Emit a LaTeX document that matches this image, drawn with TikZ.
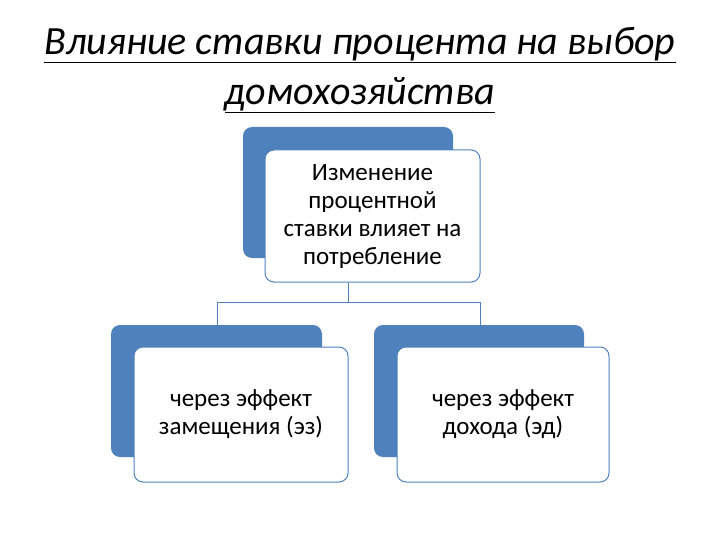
\documentclass[tikz,border=0pt]{standalone}
\usepackage{fontspec}
\setmainfont{Carlito}
\begin{document}
\begin{tikzpicture}[x=1pt,y=-1pt,
  back/.style={fill=blue1,draw=none,rounded corners=9pt},
  front/.style={fill=white,draw=blue1,line width=1pt,rounded corners=9pt,align=center,font=\fontsize{25}{28}\selectfont,inner sep=0pt},
  conn/.style={draw=blue1,line width=1pt}]
\definecolor{blue1}{HTML}{4F81BD}
\useasboundingbox (0,0) rectangle (720,540);
\node[font=\fontsize{40}{50}\selectfont\itshape,align=center] (title) at (360,70)
  {\underline{Влияние ставки процента на выбор}\\\underline{домохозяйства}};
\fill[back] (243,127) rectangle (453,258);
\node[front,minimum width=215pt,minimum height=132pt] (top) at (372.5,216) {Изменение\\процентной\\ставки влияет на\\потребление};
\fill[back] (111,325) rectangle (322,457);
\node[front,minimum width=214pt,minimum height=135pt] (left) at (241,414.5) {через эффект\\замещения (эз)};
\fill[back] (374,325) rectangle (584,457);
\node[front,minimum width=212pt,minimum height=135pt] (right) at (503,414.5) {через эффект\\дохода (эд)};
\coordinate (j) at (348,302);
\coordinate (jl) at (217,302);
\coordinate (jr) at (480,302);
\draw[conn] (top.south -| j) -- (j);
\draw[conn] (jl) -- (jr);
\draw[conn] (jl) -- (217,325);
\draw[conn] (jr) -- (480,325);
\end{tikzpicture}
\end{document}
